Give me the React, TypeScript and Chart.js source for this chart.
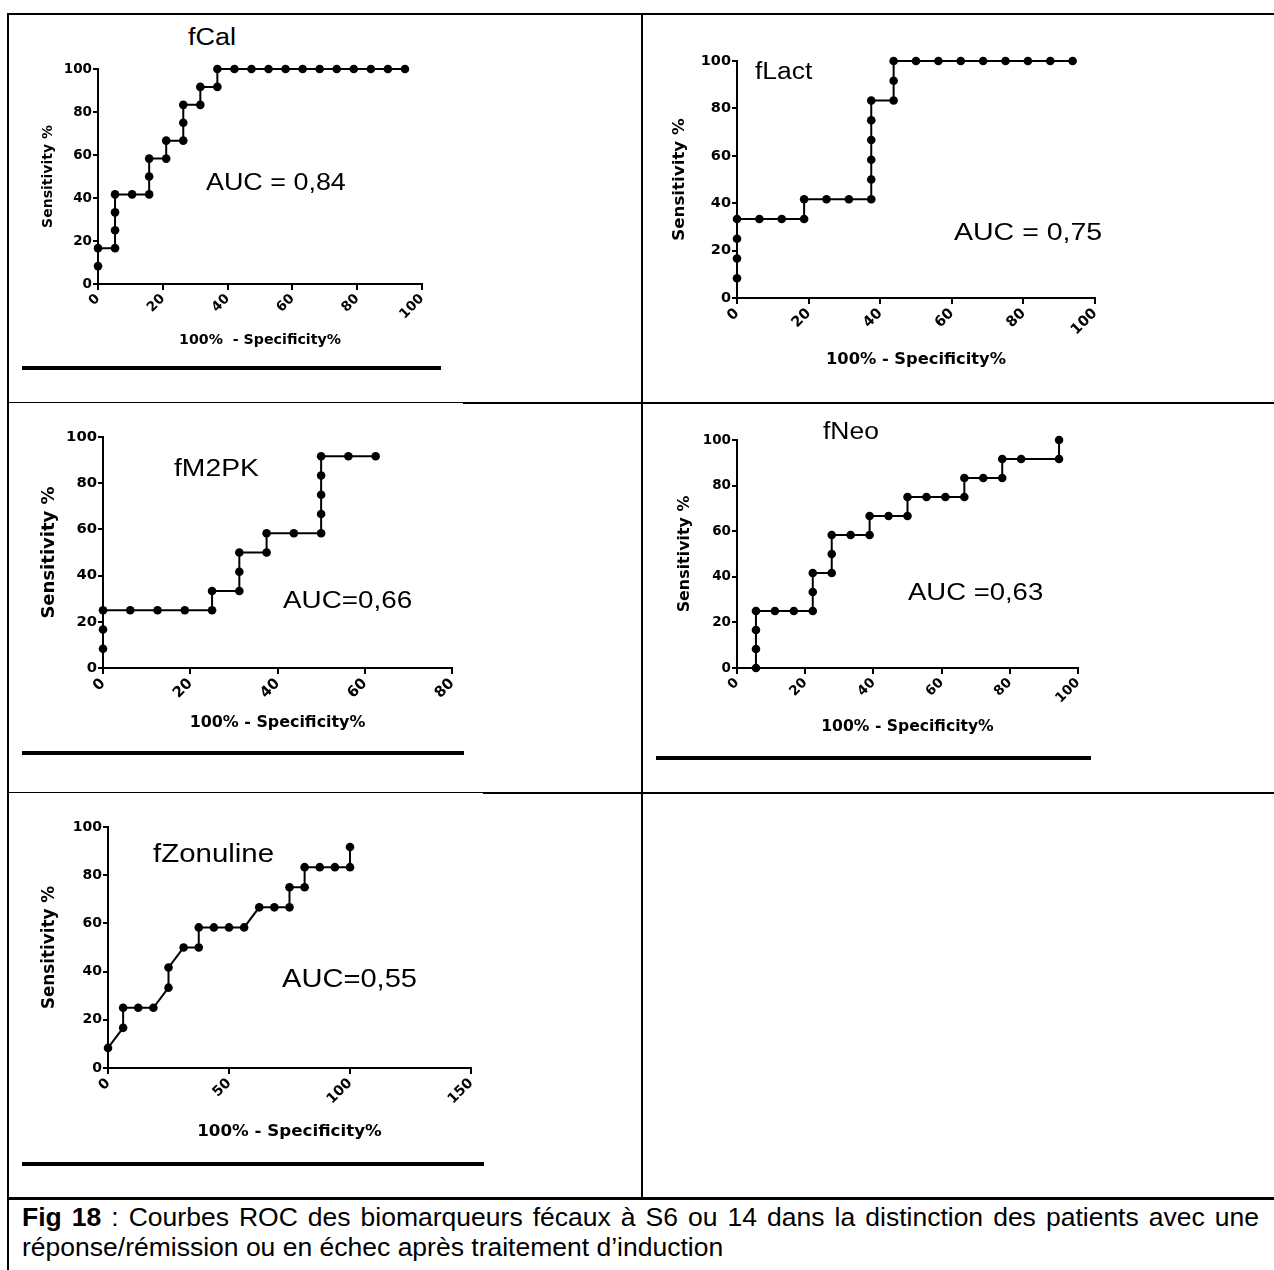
import React, { useEffect, useRef } from "react";
import { Chart, registerables } from "chart.js";

Chart.register(...registerables);

// ---------------- DATA ----------------
const fCalFpr = [0, 0, 5.26, 5.26, 5.26, 5.26, 10.53, 15.79, 15.79, 15.79, 21.05, 21.05, 26.32, 26.32, 26.32, 31.58, 31.58, 36.84, 36.84, 42.11, 47.37, 52.63, 57.89, 63.16, 68.42, 73.68, 78.95, 84.21, 89.47, 94.74];
const fCalSens = [8.33, 16.67, 16.67, 25, 33.33, 41.67, 41.67, 41.67, 50, 58.33, 58.33, 66.67, 66.67, 75, 83.33, 83.33, 91.67, 91.67, 100, 100, 100, 100, 100, 100, 100, 100, 100, 100, 100, 100];

const fLactFpr = [0, 0, 0, 0, 6.25, 12.5, 18.75, 18.75, 25, 31.25, 37.5, 37.5, 37.5, 37.5, 37.5, 37.5, 43.75, 43.75, 43.75, 50, 56.25, 62.5, 68.75, 75, 81.25, 87.5, 93.75];
const fLactSens = [8.33, 16.67, 25, 33.33, 33.33, 33.33, 33.33, 41.67, 41.67, 41.67, 41.67, 50, 58.33, 66.67, 75, 83.33, 83.33, 91.67, 100, 100, 100, 100, 100, 100, 100, 100, 100];

const fM2PKFpr = [0, 0, 0, 6.25, 12.5, 18.75, 25, 25, 31.25, 31.25, 31.25, 37.5, 37.5, 43.75, 50, 50, 50, 50, 50, 56.25, 62.5];
const fM2PKSens = [8.33, 16.67, 25, 25, 25, 25, 25, 33.33, 33.33, 41.67, 50, 50, 58.33, 58.33, 58.33, 66.67, 75, 83.33, 91.67, 91.67, 91.67];

const fNeoFpr = [5.56, 5.56, 5.56, 5.56, 11.11, 16.67, 22.22, 22.22, 22.22, 27.78, 27.78, 27.78, 33.33, 38.89, 38.89, 44.44, 50, 50, 55.56, 61.11, 66.67, 66.67, 72.22, 77.78, 77.78, 83.33, 94.44, 94.44];
const fNeoSens = [0, 8.33, 16.67, 25, 25, 25, 25, 33.33, 41.67, 41.67, 50, 58.33, 58.33, 58.33, 66.67, 66.67, 66.67, 75, 75, 75, 75, 83.33, 83.33, 83.33, 91.67, 91.67, 91.67, 100];

const fZonFpr = [0, 6.25, 6.25, 12.5, 18.75, 25, 25, 31.25, 37.5, 37.5, 43.75, 50, 56.25, 62.5, 68.75, 75, 75, 81.25, 81.25, 87.5, 93.75, 100, 100];
const fZonSens = [8.33, 16.67, 25, 25, 25, 33.33, 41.67, 50, 50, 58.33, 58.33, 58.33, 58.33, 66.67, 66.67, 66.67, 75, 75, 83.33, 83.33, 83.33, 83.33, 91.67];

const chartTitles = ["fCal", "fLact", "fM2PK", "fNeo", "fZonuline"];
const aucLabels = ["AUC = 0,84", "AUC = 0,75", "AUC=0,66", "AUC =0,63", "AUC=0,55"];
const xMaxValues = [100, 100, 80, 100, 150];
const xStepValues = [20, 20, 20, 20, 50];
const xAxisTitles = ["100%  - Specificity%", "100% - Specificity%", "100% - Specificity%", "100% - Specificity%", "100% - Specificity%"];
const yAxisTitle = "Sensitivity %";
const captionBold = "Fig 18";
const captionLine1 = " : Courbes ROC des biomarqueurs fécaux à S6 ou 14 dans la distinction des patients avec une";
const captionLine2 = "réponse/rémission ou en échec après traitement d’induction";

const series = [
  [fCalFpr, fCalSens],
  [fLactFpr, fLactSens],
  [fM2PKFpr, fM2PKSens],
  [fNeoFpr, fNeoSens],
  [fZonFpr, fZonSens],
];

// ---------------- LAYOUT ----------------
type Layout = {
  plot: [number, number, number, number];
  yTitleX: number;
  xTitleY: number;
  tick: number;
  xTitle: number;
  yTitle: number;
  title: { left: number; cy: number; size: number };
  auc: { left: number; cy: number; size: number };
};

const layouts: Layout[] = [
  { plot: [98, 69, 422, 284], yTitleX: 48, xTitleY: 340, tick: 13.5, xTitle: 14.2, yTitle: 14, title: { left: 188, cy: 38, size: 23.5 }, auc: { left: 206, cy: 182, size: 23.4 } },
  { plot: [737, 61, 1095, 298], yTitleX: 680, xTitleY: 360, tick: 14.5, xTitle: 16.3, yTitle: 16.7, title: { left: 755, cy: 71, size: 23 }, auc: { left: 954, cy: 232, size: 24.8 } },
  { plot: [103, 437, 452, 668], yTitleX: 50, xTitleY: 722, tick: 14.8, xTitle: 15.9, yTitle: 18, title: { left: 174, cy: 468, size: 24.6 }, auc: { left: 283, cy: 600, size: 24.2 } },
  { plot: [737, 440, 1078, 668], yTitleX: 685, xTitleY: 727, tick: 13.5, xTitle: 15.6, yTitle: 15.9, title: { left: 823, cy: 431, size: 23 }, auc: { left: 908, cy: 592, size: 23.9 } },
  { plot: [108, 827, 471, 1068], yTitleX: 50, xTitleY: 1132, tick: 14, xTitle: 16.7, yTitle: 16.8, title: { left: 153, cy: 854, size: 25.6 }, auc: { left: 282, cy: 978, size: 25.3 } },
];

const STRETCH = 1.15;
const AXIS_FONT = "'DejaVu Sans', sans-serif";
const WORD_FONT = "'Liberation Sans', Arial, sans-serif";

function RocChart({ idx }: { idx: number }) {
  const ref = useRef<HTMLCanvasElement | null>(null);
  const L = layouts[idx];
  const [pl, pt, pr, pb] = L.plot;
  const cLeft = Math.round(L.yTitleX - L.yTitle * 0.6);
  const cTop = pt - 16;
  const cRight = pr + 20;
  const cBottom = Math.round(L.xTitleY + L.xTitle * 0.6);
  const cw = cRight - cLeft;
  const ch = cBottom - cTop;

  useEffect(() => {
    if (!ref.current) return;
    const [xs, ys] = series[idx];
    const yW = pl - cLeft;
    const xH = cBottom - pb;
    const tickFont = { family: AXIS_FONT, weight: "bold" as const, size: L.tick };
    const chart = new Chart(ref.current, {
      type: "scatter",
      data: {
        datasets: [
          {
            data: xs.map((x, i) => ({ x, y: ys[i] })),
            showLine: true,
            borderColor: "#000",
            borderWidth: 2,
            backgroundColor: "#000",
            pointRadius: 4.3,
            pointBackgroundColor: "#000",
            pointBorderColor: "#000",
            pointBorderWidth: 0,
            pointHoverRadius: 4.3,
            clip: false as any,
            tension: 0,
          },
        ],
      },
      options: {
        responsive: false,
        animation: false,
        devicePixelRatio: 1,
        events: [],
        layout: { padding: { top: pt - cTop, right: cRight - pr, bottom: 0, left: 0 } },
        plugins: { legend: { display: false }, tooltip: { enabled: false }, title: { display: false } },
        scales: {
          x: {
            type: "linear",
            min: 0,
            max: xMaxValues[idx],
            afterFit: (s: any) => {
              s.height = xH;
            },
            ticks: {
              stepSize: xStepValues[idx],
              minRotation: 45,
              maxRotation: 45,
              autoSkip: false,
              color: "#000",
              font: tickFont,
              padding: 1,
            },
            grid: { display: true, drawOnChartArea: false, drawTicks: true, tickLength: 6, color: "#000", lineWidth: 2 },
            border: { display: true, color: "#000", width: 2 },
            title: {
              display: true,
              text: xAxisTitles[idx],
              color: "#000",
              font: { family: AXIS_FONT, weight: "bold", size: L.xTitle },
              padding: 0,
            },
          },
          y: {
            type: "linear",
            min: 0,
            max: 100,
            afterFit: (s: any) => {
              s.width = yW;
            },
            ticks: { stepSize: 20, color: "#000", font: tickFont, padding: 1 },
            grid: { display: true, drawOnChartArea: false, drawTicks: true, tickLength: 5, color: "#000", lineWidth: 2 },
            border: { display: true, color: "#000", width: 2 },
            title: {
              display: true,
              text: yAxisTitle,
              color: "#000",
              font: { family: AXIS_FONT, weight: "bold", size: L.yTitle },
              padding: 0,
            },
          },
        },
      } as any,
    });
    return () => chart.destroy();
  }, []);

  return (
    <canvas
      ref={ref}
      width={cw}
      height={ch}
      style={{ position: "absolute", left: cLeft, top: cTop, width: cw, height: ch }}
    />
  );
}

function WordText({ text, left, cy, size }: { text: string; left: number; cy: number; size: number }) {
  return (
    <div
      style={{
        position: "absolute",
        left,
        top: cy - size * 0.49,
        fontFamily: WORD_FONT,
        fontSize: size,
        lineHeight: `${size}px`,
        whiteSpace: "pre",
        color: "#000",
        transform: `scaleX(${STRETCH})`,
        transformOrigin: "left center",
      }}
    >
      {text}
    </div>
  );
}

function Rule({ left, top, width, height }: { left: number; top: number; width: number; height: number }) {
  return <div style={{ position: "absolute", left, top, width, height, background: "#000" }} />;
}

export default function App() {
  return (
    <div
      style={{
        position: "absolute",
        left: 0,
        top: 0,
        width: 1274,
        height: 1270,
        overflow: "hidden",
        background: "#fff",
      }}
    >
      {/* table frame */}
      <Rule left={7} top={13} width={1267} height={2} />
      <Rule left={7} top={13} width={2} height={1257} />
      <Rule left={641} top={13} width={2} height={1186} />
      <Rule left={7} top={402} width={456} height={1} />
      <Rule left={463} top={402} width={811} height={2} />
      <Rule left={7} top={792} width={476} height={1} />
      <Rule left={483} top={792} width={791} height={2} />
      <Rule left={7} top={1197} width={1267} height={3} />

      {/* thick bars under the graphs */}
      <Rule left={22} top={366} width={419} height={4} />
      <Rule left={22} top={751} width={442} height={4} />
      <Rule left={656} top={756} width={435} height={4} />
      <Rule left={22} top={1162} width={462} height={4} />

      {layouts.map((_, i) => (
        <RocChart key={"c" + i} idx={i} />
      ))}
      {layouts.map((L, i) => (
        <React.Fragment key={"t" + i}>
          <WordText text={chartTitles[i]} left={L.title.left} cy={L.title.cy} size={L.title.size} />
          <WordText text={aucLabels[i]} left={L.auc.left} cy={L.auc.cy} size={L.auc.size} />
        </React.Fragment>
      ))}

      {/* caption */}
      <div
        style={{
          position: "absolute",
          left: 22,
          top: 1202,
          width: 1237,
          fontFamily: WORD_FONT,
          fontSize: 26.5,
          lineHeight: "30px",
          color: "#000",
        }}
      >
        <div style={{ whiteSpace: "nowrap", textAlign: "justify", textAlignLast: "justify" as any }}>
          <b>{captionBold}</b>
          {captionLine1}
        </div>
        <div style={{ whiteSpace: "nowrap" }}>{captionLine2}</div>
      </div>
    </div>
  );
}
